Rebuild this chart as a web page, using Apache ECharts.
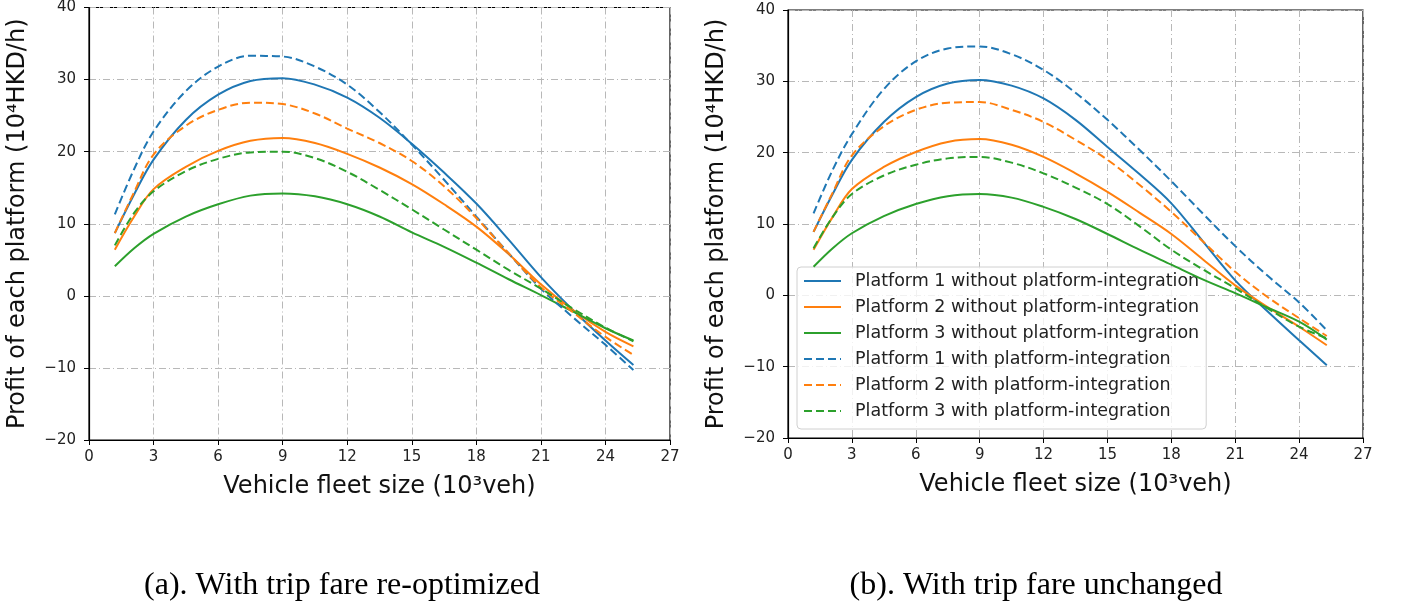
<!DOCTYPE html>
<html>
<head>
<meta charset="utf-8">
<script src="https://cdn.jsdelivr.net/npm/echarts@6/dist/echarts.min.js"></script>
<style>
  html, body { margin: 0; padding: 0; background: #fff; }
  #chart { width: 1401px; height: 613px; }
</style>
</head>
<body>
<div id="chart"></div>
<script>
  // fleet size (10^3 veh) sample points, shared by every curve
  const fleet = [1.2, 2.1, 3, 4.5, 6, 7.5, 9, 10.5, 12, 13.5, 15, 16.5, 18, 19.5, 21, 22.5, 24, 25.3];

  // (a) trip fare re-optimized
  const a_p1_without = [8.7, 14.1, 18.9, 24.4, 27.9, 29.8, 30.2, 29.3, 27.5, 24.7, 21.1, 17.1, 12.8, 7.8, 2.6, -2.0, -6.2, -9.6];
  const a_p2_without = [6.4, 11.0, 14.8, 17.9, 20.1, 21.5, 21.9, 21.2, 19.7, 17.8, 15.5, 12.7, 9.6, 5.8, 1.6, -2.0, -5.0, -7.0];
  const a_p3_without = [4.1, 6.6, 8.6, 11.0, 12.7, 13.9, 14.2, 13.8, 12.7, 11.0, 8.8, 6.8, 4.6, 2.3, 0.1, -2.2, -4.5, -6.2];
  const a_p1_with = [11.3, 17.6, 22.8, 28.4, 31.8, 33.3, 33.2, 31.8, 29.3, 25.5, 21.0, 16.1, 11.0, 5.9, 1.0, -3.0, -6.8, -10.3];
  const a_p2_with = [8.7, 14.4, 19.6, 23.6, 25.8, 26.8, 26.6, 25.3, 23.2, 21.2, 18.7, 15.2, 10.8, 5.9, 1.2, -2.3, -5.7, -8.2];
  const a_p3_with = [7.0, 11.5, 14.5, 17.3, 19.0, 19.9, 20.0, 19.1, 17.2, 14.7, 12.0, 9.2, 6.4, 3.6, 1.0, -1.8, -4.4, -6.3];

  // (b) trip fare unchanged
  const b_p1_without = [8.9, 14.2, 19.0, 24.3, 27.8, 29.7, 30.2, 29.4, 27.6, 24.6, 20.8, 17.0, 12.9, 7.5, 2.1, -2.2, -6.3, -9.8];
  const b_p2_without = [6.4, 11.0, 14.9, 18.0, 20.1, 21.5, 21.9, 21.1, 19.4, 17.1, 14.5, 11.6, 8.6, 5.0, 1.4, -1.6, -4.4, -7.0];
  const b_p3_without = [4.0, 6.6, 8.7, 11.1, 12.8, 13.9, 14.2, 13.7, 12.4, 10.7, 8.6, 6.4, 4.3, 2.2, 0.3, -1.7, -3.7, -6.2];
  const b_p1_with = [11.5, 17.6, 22.6, 28.9, 32.8, 34.6, 34.9, 33.8, 31.6, 28.4, 24.6, 20.4, 16.0, 11.4, 6.9, 2.8, -1.0, -4.9];
  const b_p2_with = [8.9, 14.4, 19.6, 23.7, 26.0, 27.0, 27.1, 26.0, 24.3, 21.8, 19.0, 15.5, 11.7, 7.5, 3.3, -0.2, -3.2, -5.7];
  const b_p3_with = [6.6, 11.0, 14.2, 16.8, 18.3, 19.2, 19.4, 18.6, 17.1, 15.1, 12.8, 9.7, 6.4, 3.6, 1.0, -1.8, -4.4, -6.0];

  const names = [
    'Platform 1 without platform-integration',
    'Platform 2 without platform-integration',
    'Platform 3 without platform-integration',
    'Platform 1 with platform-integration',
    'Platform 2 with platform-integration',
    'Platform 3 with platform-integration',
  ];
  const colors = ['#1f77b4', '#ff7f0e', '#2ca02c'];
  const xTicks = [0, 3, 6, 9, 12, 15, 18, 21, 24, 27];
  const yTicks = [-20, -10, 0, 10, 20, 30, 40];

  const font = 'DejaVu Sans';
  const gridLine = { show: true, lineStyle: { color: '#b8b8b8', type: [7, 3, 1, 3], width: 1 } };

  function xAxis(idx) {
    return {
      type: 'value', gridIndex: idx,
      min: xTicks[0], max: xTicks[xTicks.length - 1], interval: 3,
      name: 'Vehicle fleet size (10³veh)',
      nameLocation: 'middle', nameGap: 35,
      nameTextStyle: { fontFamily: font, fontSize: 24, color: '#111' },
      axisLine: { show: true, onZero: false, lineStyle: { color: '#000', width: 1.2 } },
      axisTick: { show: true, length: 5, lineStyle: { color: '#000' } },
      axisLabel: { fontFamily: font, fontSize: 15, color: '#222', margin: 10 },
      splitLine: gridLine,
    };
  }
  function yAxis(idx) {
    return {
      type: 'value', gridIndex: idx,
      min: yTicks[0], max: yTicks[yTicks.length - 1], interval: 10,
      name: 'Profit of each platform (10⁴HKD/h)',
      nameLocation: 'middle', nameGap: 59,
      nameTextStyle: { fontFamily: font, fontSize: 24, color: '#111' },
      axisLine: { show: true, onZero: false, lineStyle: { color: '#000', width: 1.2 } },
      axisTick: { show: true, length: 5, lineStyle: { color: '#000' } },
      axisLabel: { fontFamily: font, fontSize: 15, color: '#222', margin: 13,
        formatter: v => (v < 0 ? '\u2212' + Math.abs(v) : String(v)) },
      splitLine: gridLine,
    };
  }

  function makeSeries(idx, list) {
    return list.map((vals, i) => ({
      name: names[i],
      type: 'line',
      xAxisIndex: idx, yAxisIndex: idx,
      data: fleet.map((x, k) => [x, vals[k]]),
      smooth: 0.35,
      symbol: 'none',
      color: colors[i % 3],
      lineStyle: { width: 2, color: colors[i % 3], type: i < 3 ? 'solid' : [8, 4] },
      z: 5,
    }));
  }

  const series = [
    ...makeSeries(0, [a_p1_without, a_p2_without, a_p3_without, a_p1_with, a_p2_with, a_p3_with]),
    ...makeSeries(1, [b_p1_without, b_p2_without, b_p3_without, b_p1_with, b_p2_with, b_p3_with]),
  ];

  const chart = echarts.init(document.getElementById('chart'));
  chart.setOption({
    animation: false,
    backgroundColor: '#fff',
    grid: [
      { left: 89, right: 731, top: 7, bottom: 173, show: true, borderColor: '#000', borderWidth: 1.2, backgroundColor: 'transparent' },
      { left: 788, right: 38, top: 10, bottom: 175, show: true, borderColor: '#000', borderWidth: 1.2, backgroundColor: 'transparent' },
    ],
    xAxis: [xAxis(0), xAxis(1)],
    yAxis: [yAxis(0), yAxis(1)],
    legend: {
      data: names,
      orient: 'vertical',
      left: 797, top: 267,
      itemWidth: 37, itemHeight: 14, itemGap: 6,
      itemStyle: { opacity: 0 },
      padding: [4, 7, 8, 6],
      backgroundColor: 'rgba(255,255,255,0.8)',
      borderColor: '#d0d0d0', borderWidth: 1, borderRadius: 4,
      textStyle: { fontFamily: font, fontSize: 17.5, color: '#222', lineHeight: 20, padding: [0, 0, 0, 9] },
    },
    graphic: [
      { type: 'text', x: 342, y: 586, style: { text: '(a). With trip fare re-optimized', fontFamily: 'Liberation Serif', fontSize: 32, fill: '#000', align: 'center', verticalAlign: 'middle' } },
      { type: 'text', x: 1036, y: 586, style: { text: '(b). With trip fare unchanged', fontFamily: 'Liberation Serif', fontSize: 32, fill: '#000', align: 'center', verticalAlign: 'middle' } },
    ],
    series: series,
  });
</script>
</body>
</html>
